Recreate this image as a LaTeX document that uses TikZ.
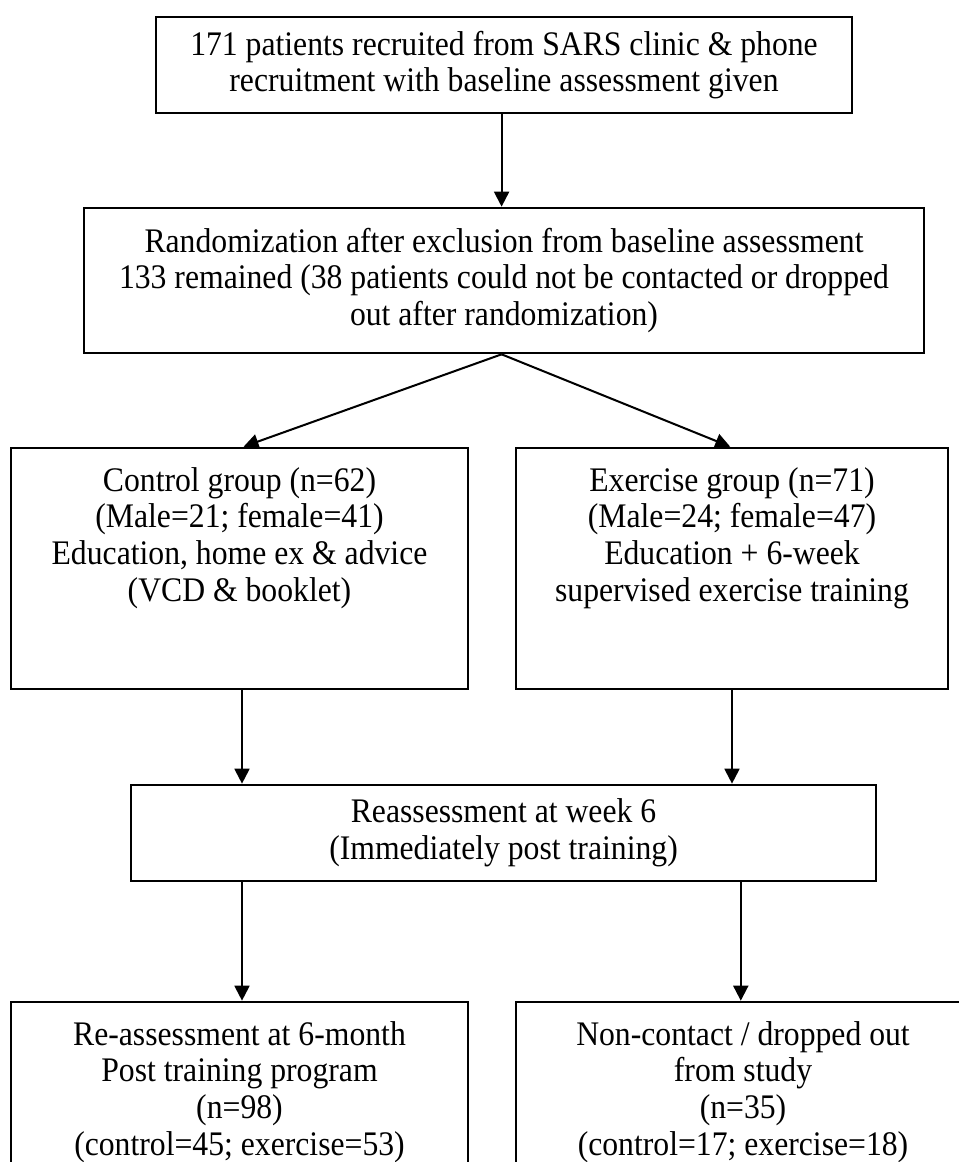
\documentclass[tikz,border=0pt]{standalone}
\usepackage{fontspec}
\setmainfont[FakeStretch=0.92]{Liberation Serif}
\usetikzlibrary{arrows.meta}

\begin{document}
\begin{tikzpicture}[scale=0.2,
    box/.style={draw=black, line width=1.5pt},
    arr/.style={-{Triangle[length=8.5pt,width=8.5pt]}, line width=1.15pt}]
    \tikzstyle{every node}+=[inner sep=0pt, align=center, font=\fontsize{19.6}{20.9}\selectfont]
    \useasboundingbox (0,0) rectangle (95.8,-116.2);
    % boxes
    \node [box, minimum width=13.92cm, minimum height=1.92cm] (recruit) at (50.4,-6.5)
        {171 patients recruited from SARS clinic \& phone\\recruitment with baseline assessment given};
    \node [box, minimum width=16.8cm, minimum height=2.9cm] (random) at (50.4,-28.05)
        {Randomization after exclusion from baseline assessment\\133 remained (38 patients could not be contacted or dropped\\out after randomization)};
    \node [box, minimum width=9.14cm, minimum height=4.82cm] (ctrl) at (23.95,-56.85) {};
    \node [anchor=north] (ctrltxt) at (23.95,-46.7)
        {Control group (n=62)\\(Male=21; female=41)\\Education, home ex \& advice\\(VCD \& booklet)};
    \node [box, minimum width=8.64cm, minimum height=4.82cm] (exer) at (73.2,-56.85) {};
    \node [anchor=north] (exertxt) at (73.2,-46.7)
        {Exercise group (n=71)\\(Male=24; female=47)\\Education + 6-week\\supervised exercise training};
    \node [box, minimum width=14.9cm, minimum height=1.92cm] (week) at (50.35,-83.3)
        {Reassessment at week 6\\(Immediately post training)};
    \node [box, minimum width=9.14cm, minimum height=3.6cm] (month) at (23.95,-109.2)
        {Re-assessment at 6-month\\Post training program\\(n=98)\\(control=45; exercise=53)};
    \node [box, minimum width=9.08cm, minimum height=3.6cm] (drop) at (74.3,-109.2)
        {Non-contact / dropped out\\from study\\(n=35)\\(control=17; exercise=18)};
    % arrows
    \draw [arr] ([xshift=-0.24cm]recruit.south) -- ([xshift=-0.24cm]random.north);
    \draw [arr] ([xshift=-0.24cm]random.south) -- ([xshift=0.41cm]ctrl.north);
    \draw [arr] ([xshift=-0.24cm]random.south) -- ([xshift=-0.18cm]exer.north);
    \draw [arr] ([xshift=0.25cm]ctrl.south) -- ([xshift=0.25cm]ctrl.south |- week.north);
    \draw [arr] (exer.south) -- (exer.south |- week.north);
    \draw [arr] ([xshift=0.25cm]month.north |- week.south) -- ([xshift=0.25cm]month.north);
    \draw [arr] ([xshift=-0.22cm]drop.north |- week.south) -- ([xshift=-0.22cm]drop.north);
\end{tikzpicture}
\end{document}
